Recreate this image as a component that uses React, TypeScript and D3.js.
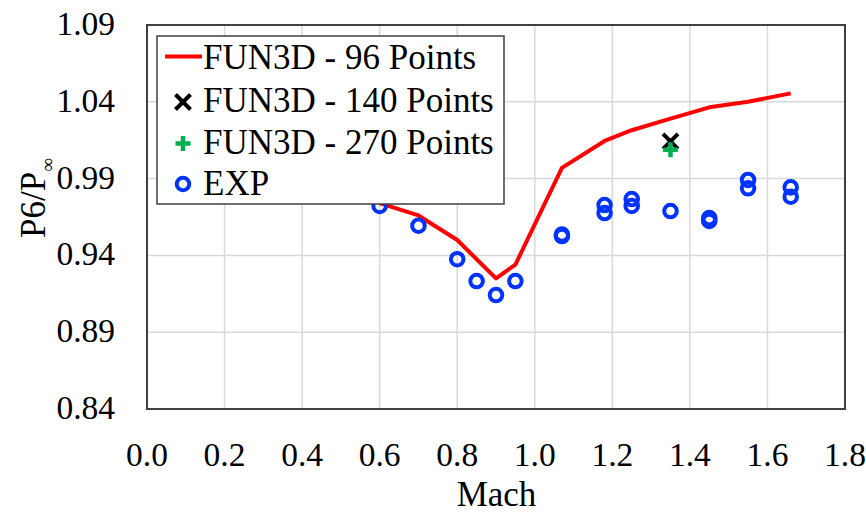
import React from "react";
import * as d3 from "d3";

const xTicks = [0, 0.2, 0.4, 0.6, 0.8, 1.0, 1.2, 1.4, 1.6, 1.8];
const yTicks = [0.84, 0.89, 0.94, 0.99, 1.04, 1.09];

const fun96Mach = [0.6, 0.7, 0.8, 0.9, 0.95, 1.07, 1.18, 1.25, 1.35, 1.45, 1.55, 1.66];
const fun96Val = [0.974, 0.966, 0.95, 0.925, 0.934, 0.997, 1.0145, 1.0215, 1.029, 1.0364, 1.04, 1.0455];

const fun140Mach = [1.35];
const fun140Val = [1.0142];

const fun270Mach = [1.35];
const fun270Val = [1.0088];

const expMach = [0.6, 0.7, 0.8, 0.85, 0.9, 0.95, 1.07, 1.07, 1.18, 1.18, 1.25, 1.25, 1.35, 1.45, 1.45, 1.55, 1.55, 1.66, 1.66];
const expVal = [0.9722, 0.9593, 0.9375, 0.9233, 0.9142, 0.9233, 0.9536, 0.9526, 0.9728, 0.9676, 0.9767, 0.9722, 0.9689, 0.9643, 0.9624, 0.9891, 0.9837, 0.9843, 0.9782];

const legendLabels = ["FUN3D - 96 Points", "FUN3D - 140 Points", "FUN3D - 270 Points", "EXP"];

const RED = "#FF0000";
const GREEN = "#00B050";
const BLUE = "#0033FF";
const FONT = "'Liberation Serif', 'Times New Roman', serif";

export default function App() {
  const W = 866, H = 513;
  const x = d3.scaleLinear().domain([0, 1.8]).range([147, 845]);
  const y = d3.scaleLinear().domain([0.84, 1.09]).range([409, 25]);

  const line = d3.line<number>()
    .x((_, i) => x(fun96Mach[i]))
    .y((d) => y(d));

  const xMark = (cx: number, cy: number, s: number, key: string) => (
    <g key={key} stroke="#000" strokeWidth={4}>
      <line x1={cx - s} y1={cy - s} x2={cx + s} y2={cy + s} />
      <line x1={cx - s} y1={cy + s} x2={cx + s} y2={cy - s} />
    </g>
  );
  const plusMark = (cx: number, cy: number, s: number, key: string) => (
    <g key={key} stroke={GREEN} strokeWidth={4.5}>
      <line x1={cx - s} y1={cy} x2={cx + s} y2={cy} />
      <line x1={cx} y1={cy - s} x2={cx} y2={cy + s} />
    </g>
  );

  const legX = 157, legY = 36, legW = 347, legH = 168;
  const rowBase = [69, 111.5, 153.5, 195];
  const symX = 183;

  return (
    <svg width={W} height={H} style={{ position: "absolute", left: 0, top: 0, background: "#fff" }}
      fontFamily={FONT}>
      <rect x={0} y={0} width={W} height={H} fill="#fff" />
      {/* grid */}
      {xTicks.map((t) => (
        <line key={"gx" + t} x1={x(t)} x2={x(t)} y1={y(1.09)} y2={y(0.84)} stroke="#d9d9d9" strokeWidth={1.5} />
      ))}
      {yTicks.map((t) => (
        <line key={"gy" + t} x1={x(0)} x2={x(1.8)} y1={y(t)} y2={y(t)} stroke="#d9d9d9" strokeWidth={1.5} />
      ))}
      {/* plot border */}
      <rect x={x(0)} y={y(1.09)} width={x(1.8) - x(0)} height={y(0.84) - y(1.09)} fill="none" stroke="#404040" strokeWidth={2} />

      {/* tick labels */}
      {xTicks.map((t) => (
        <text key={"xl" + t} x={x(t)} y={466} textAnchor="middle" fontSize={33.5} fill="#000">
          {t.toFixed(1)}
        </text>
      ))}
      {yTicks.map((t) => (
        <text key={"yl" + t} x={115} y={y(t) + 10} textAnchor="end" fontSize={33.5} fill="#000">
          {t.toFixed(2)}
        </text>
      ))}

      {/* axis titles */}
      <text x={496.5} y={506} textAnchor="middle" fontSize={35} fill="#000">Mach</text>
      <text transform="translate(45,238) rotate(-90)" textAnchor="start" fontSize={35} fill="#000">
        P6/P<tspan fontSize={19} dy={9}>∞</tspan>
      </text>

      {/* series */}
      <path d={line(fun96Val) || ""} fill="none" stroke={RED} strokeWidth={4} strokeLinejoin="round" />
      {expVal.map((v, i) => (
        <circle key={"e" + i} cx={x(expMach[i])} cy={y(v)} r={6.3} fill="none" stroke={BLUE} strokeWidth={4} />
      ))}
      {fun140Val.map((v, i) => xMark(x(fun140Mach[i]), y(v), 7.5, "x" + i))}
      {fun270Val.map((v, i) => plusMark(x(fun270Mach[i]), y(v), 7.5, "p" + i))}

      {/* legend */}
      <rect x={legX} y={legY} width={legW} height={legH} fill="#fff" stroke="#404040" strokeWidth={1.5} />
      <line x1={165} x2={202} y1={56.5} y2={56.5} stroke={RED} strokeWidth={4} />
      {xMark(symX, 102, 7.5, "lx")}
      {plusMark(symX, 143.5, 7.5, "lp")}
      <circle cx={symX} cy={184} r={6.3} fill="none" stroke={BLUE} strokeWidth={4} />
      {legendLabels.map((l, i) => (
        <text key={"lg" + i} x={203} y={rowBase[i]} fontSize={35} fill="#000">{l}</text>
      ))}
    </svg>
  );
}
